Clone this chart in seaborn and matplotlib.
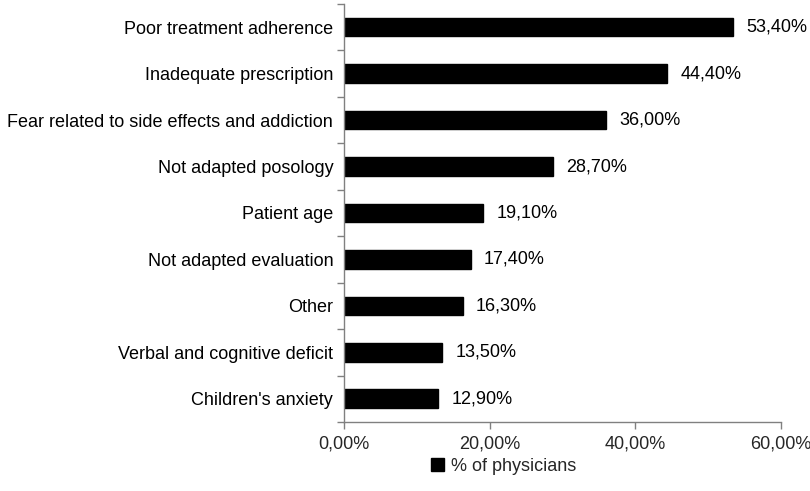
import matplotlib
matplotlib.use("Agg")
import matplotlib.pyplot as plt
import seaborn as sns
import pandas as pd
from matplotlib.ticker import FuncFormatter, FixedLocator
from matplotlib.patches import Patch

categories = ["Poor treatment adherence", "Inadequate prescription",
              "Fear related to side effects and addiction", "Not adapted posology",
              "Patient age", "Not adapted evaluation", "Other",
              "Verbal and cognitive deficit", "Children's anxiety"]
values = [53.4, 44.4, 36.0, 28.7, 19.1, 17.4, 16.3, 13.5, 12.9]
xticks = [0, 20, 40, 60]
series_name = "% of physicians"

sns.set_style("white")
plt.rcParams['font.family'] = ['Liberation Sans', 'DejaVu Sans']
FS = 13

df = pd.DataFrame({"cat": categories, "val": values})
fig = plt.figure(figsize=(8.1, 4.91), dpi=100)
ax = fig.add_axes([0.425, 0.1405, 0.964 - 0.425, 0.992 - 0.1405])
sns.barplot(data=df, y="cat", x="val", color="black", width=0.4, ax=ax, orient="h")
for p in ax.patches:
    p.set_facecolor("black")
    p.set_edgecolor("black")

ax.set_xlim(0, 60)
ax.set_ylim(len(categories) - 0.5, -0.5)
ax.set_xticks(xticks)
ax.xaxis.set_major_formatter(FuncFormatter(lambda v, _: f"{v:.2f}%".replace(".", ",")))
ax.set_xlabel("")
ax.set_ylabel("")
ax.set_yticks(range(len(categories)))
ax.set_yticklabels(categories)
ax.yaxis.set_minor_locator(FixedLocator([i - 0.5 for i in range(len(categories) + 1)]))
ax.tick_params(axis="y", which="major", length=0, labelsize=FS, pad=8, labelcolor="black")
ax.tick_params(axis="y", which="minor", length=5, width=1, color="#808080", left=True)
ax.tick_params(axis="x", which="major", length=5, width=1, color="#808080", labelsize=FS, pad=5, bottom=True)

for s in ["top", "right"]:
    ax.spines[s].set_visible(False)
for s in ["left", "bottom"]:
    ax.spines[s].set_color("#808080")
    ax.spines[s].set_linewidth(1)

for i, v in enumerate(values):
    ax.text(v + 1.8, i, f"{v:.2f}%".replace(".", ","), va="center", ha="left", fontsize=FS, color="black")

fig.legend(handles=[Patch(facecolor="black", edgecolor="black", label=series_name)],
           loc="center", bbox_to_anchor=(0.622, 0.05), frameon=False, fontsize=FS,
           handlelength=0.7, handleheight=0.7, handletextpad=0.4)

fig.savefig("out.png", dpi=100)
